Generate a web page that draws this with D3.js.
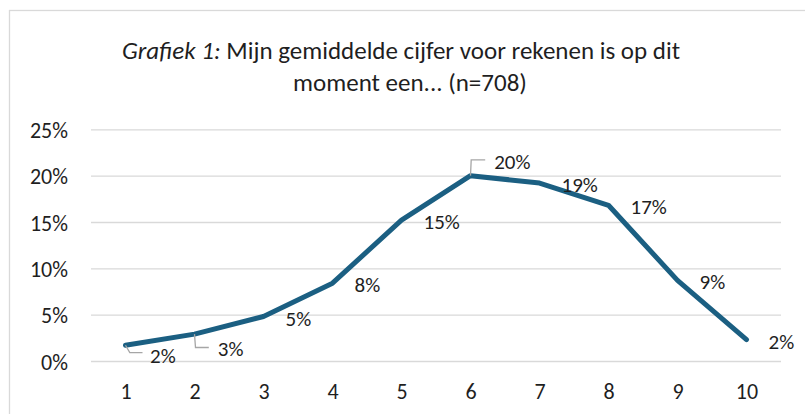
<!DOCTYPE html>
<html>
<head>
<meta charset="utf-8">
<style>
  body { margin: 0; background: #fff; }
  svg { display: block; font-family: Carlito, Calibri, Lato, sans-serif; }
</style>
</head>
<body>
<svg width="805" height="414"></svg>
<script src="https://d3js.org/d3.v7.min.js"></script>
<script>

var categories = ["1", "2", "3", "4", "5", "6", "7", "8", "9", "10"];
var shares = [0.017, 0.029, 0.048, 0.084, 0.152, 0.200, 0.192, 0.168, 0.087, 0.023];
var yTicks = [0, 0.05, 0.10, 0.15, 0.20, 0.25];

var svg = d3.select("svg"),
    width = +svg.attr("width"),
    height = +svg.attr("height");

var pct = d3.format(".0%");

var x = d3.scalePoint()
    .domain(categories)
    .range([91, 781])
    .padding(0.5);

var y = d3.scaleLinear()
    .domain([0, 0.25])
    .range([361, 129.3]);

// chart frame
svg.append("rect")
    .attr("x", 9.5)
    .attr("y", 10.5)
    .attr("width", 820)
    .attr("height", 420)
    .attr("fill", "#fff")
    .attr("stroke", "#d9d9d9")
    .attr("stroke-width", 1.3);

// title
var title = svg.append("text")
    .attr("text-anchor", "middle")
    .attr("font-size", 25)
    .attr("fill", "#1f1f1f");

var t1 = title.append("tspan").attr("x", 401).attr("y", 59);
t1.append("tspan").attr("font-style", "italic").text("Grafiek 1:");
t1.append("tspan").text(" Mijn gemiddelde cijfer voor rekenen is op dit");
title.append("tspan").attr("x", 410).attr("y", 91).text("moment een... (n=708)");

// gridlines + y labels
var yAxis = svg.append("g")
    .attr("transform", "translate(91,0)")
    .call(d3.axisLeft(y).tickValues(yTicks).tickFormat(pct).tickSize(-690).tickPadding(23));

yAxis.select(".domain").remove();
yAxis.selectAll(".tick line").attr("stroke", "#d9d9d9").attr("stroke-width", 1.3);
yAxis.selectAll(".tick text")
    .attr("font-family", "Carlito, Calibri, Lato, sans-serif")
    .attr("font-size", 22)
    .attr("fill", "#1f1f1f")
    .attr("dy", "0.37em");

// x labels
var xAxis = svg.append("g")
    .attr("transform", "translate(0,361)")
    .call(d3.axisBottom(x).tickSize(0).tickPadding(22));

xAxis.select(".domain").remove();
xAxis.selectAll(".tick text")
    .attr("font-family", "Carlito, Calibri, Lato, sans-serif")
    .attr("font-size", 22)
    .attr("fill", "#1f1f1f");

// the line
var line = d3.line()
    .x(function(d, i) { return x(categories[i]); })
    .y(function(d) { return y(d); });

svg.append("path")
    .datum(shares)
    .attr("d", line)
    .attr("fill", "none")
    .attr("stroke", "#1b5f82")
    .attr("stroke-width", 5)
    .attr("stroke-linejoin", "round")
    .attr("stroke-linecap", "round");

// data labels; a few were dragged off the line in the original and got leader lines
var moved = {
  0: { dx: 24.5, dy: 10.5, leader: [[0, 0], [4.3, 7.3], [17, 7.3]] },
  1: { dx: 23.3, dy: 14.7, leader: [[0, 0], [1, 13.4], [14.3, 13.4]] },
  5: { dx: 23.7, dy: -14, leader: [[0, 0], [0.7, -15.7], [14.7, -15.7]] }
};

var labels = svg.append("g")
    .attr("font-size", 21)
    .attr("fill", "#1f1f1f");

shares.forEach(function(v, i) {
  var px = x(categories[i]), py = y(v);
  var m = moved[i] || { dx: 22, dy: 1.5 };
  if (m.leader) {
    svg.append("path")
        .attr("d", d3.line()(m.leader.map(function(p) { return [px + p[0], py + p[1]]; })))
        .attr("fill", "none")
        .attr("stroke", "#a6a6a6")
        .attr("stroke-width", 1.3);
  }
  labels.append("text")
      .attr("x", px + m.dx)
      .attr("y", py + m.dy)
      .attr("dy", "0.36em")
      .text(pct(v));
});

</script>
</body>
</html>
